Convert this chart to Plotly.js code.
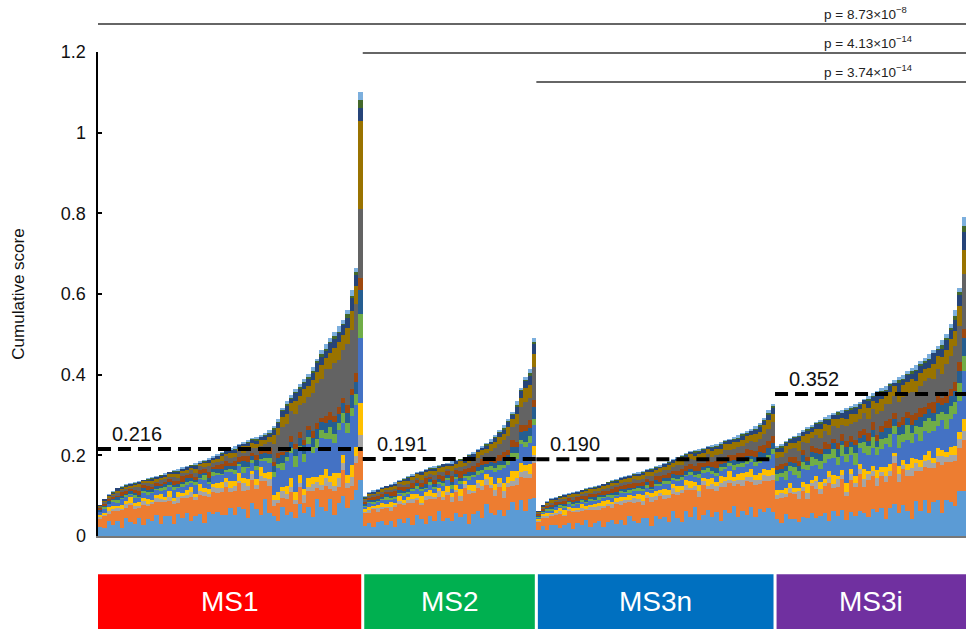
<!DOCTYPE html>
<html><head><meta charset="utf-8">
<script src="https://cdn.plot.ly/plotly-3.0.1.min.js"></script>
<style>html,body{margin:0;padding:0;background:#fff}#chart{width:966px;height:630px}</style>
</head><body><div id="chart"></div>
<script>
// ---------- DATA ----------
const groupNames = ['MS1', 'MS2', 'MS3n', 'MS3i'];
const groupColors = ['#FF0000', '#00B050', '#0070C0', '#7030A0'];
const groupMeans = [0.216, 0.191, 0.190, 0.352];
const groupMeanLabels = ['0.216', '0.191', '0.190', '0.352'];

// cumulative score of each sample (sorted within group)
const ms1Totals = [0.078,0.092,0.104,0.112,0.119,0.124,0.128,0.131,0.134,0.137,
  0.140,0.143,0.146,0.149,0.152,0.155,0.159,0.163,0.166,0.170,
  0.173,0.177,0.181,0.185,0.189,0.193,0.198,0.203,0.208,0.213,
  0.218,0.223,0.228,0.233,0.238,0.242,0.246,0.250,0.255,0.262,
  0.272,0.290,0.318,0.334,0.350,0.365,0.378,0.390,0.402,0.420,
  0.440,0.460,0.475,0.490,0.505,0.520,0.535,0.560,0.610,0.665,
  1.100];
const ms2Totals = [0.098,0.108,0.113,0.117,0.121,0.125,0.129,0.133,0.138,0.143,
  0.148,0.153,0.158,0.162,0.166,0.170,0.173,0.176,0.179,0.182,
  0.185,0.188,0.192,0.197,0.203,0.209,0.216,0.223,0.231,0.240,
  0.250,0.262,0.275,0.290,0.308,0.335,0.368,0.395,0.415,0.490];
const ms3nTotals = [0.062,0.078,0.086,0.093,0.097,0.100,0.103,0.106,0.109,0.112,
  0.115,0.118,0.121,0.124,0.127,0.130,0.134,0.138,0.142,0.146,
  0.149,0.152,0.155,0.158,0.161,0.165,0.169,0.173,0.177,0.181,
  0.186,0.191,0.196,0.201,0.206,0.210,0.213,0.216,0.219,0.222,
  0.225,0.229,0.233,0.237,0.241,0.245,0.250,0.255,0.260,0.266,
  0.272,0.280,0.292,0.312,0.328];
const ms3iTotals = [0.222,0.228,0.236,0.243,0.249,0.255,0.262,0.270,0.276,0.282,
  0.288,0.294,0.299,0.304,0.309,0.313,0.318,0.323,0.328,0.333,
  0.340,0.347,0.354,0.360,0.366,0.372,0.379,0.386,0.393,0.400,
  0.408,0.416,0.424,0.433,0.442,0.451,0.461,0.472,0.485,0.500,
  0.525,0.560,0.615,0.790];

// component colours (stack order, bottom to top)
const componentColors = ['#5B9BD5','#ED7D31','#A5A5A5','#FFC000','#4472C4','#70AD47',
  '#255E91','#9E480E','#636363','#997300','#264478','#43682B','#7CAFDD'];

// relative share of each component in every sample (MS1 | MS2 | MS3n | MS3i)
const wLightBlue = [30,22,38,26,34,19,41,28,24,36,21,33,27,44,23,31,38,20,35,26,40,24,29,37,18,33,27,42,22,30,36,25,43,28,21,39,32,24,45,27,20,14,26,17,23,12,28,16,21,13,25,18,15,22,12,19,24,14,17,20,14,
  28,36,22,33,40,25,31,19,37,27,34,23,42,29,20,35,26,39,24,32,21,38,28,33,18,30,36,24,41,27,22,30,19,26,32,21,28,17,24,20,
  26,34,20,31,38,24,29,36,18,32,27,40,22,30,35,19,28,37,25,33,21,39,27,24,34,30,18,36,26,31,23,38,28,20,33,26,41,22,29,35,24,31,19,34,27,36,22,30,25,32,20,28,24,26,21,
  22,16,27,19,25,14,23,18,29,17,21,26,15,24,19,28,13,22,17,25,20,15,26,18,23,14,21,27,16,24,19,13,22,17,25,15,20,23,14,21,18,16,20,15];
const wOrange = [28,36,20,32,25,41,22,34,30,18,38,24,33,27,44,21,30,35,19,29,26,40,23,31,37,20,28,34,25,42,22,30,36,19,33,27,24,39,21,31,10,16,8,13,19,9,14,7,12,17,8,11,15,6,13,9,16,10,7,12,7,
  36,28,42,25,33,38,22,40,30,35,26,44,31,24,39,29,37,21,34,41,27,33,23,38,45,28,32,36,25,30,20,26,18,23,15,21,17,22,14,18,
  38,30,44,27,35,41,25,33,46,29,36,24,40,32,28,43,34,26,39,31,45,27,35,38,24,33,42,29,36,30,40,26,34,43,28,37,25,32,41,29,35,27,44,31,36,24,38,30,42,28,33,26,30,24,28,
  26,32,21,29,35,24,30,19,33,27,23,31,36,22,28,34,20,30,25,37,22,29,33,19,27,31,24,35,21,28,26,32,18,27,23,30,20,25,29,22,21,24,19,17];
const wGray = [6,4,8,5,7,3,9,5,6,4,7,5,3,8,6,4,7,5,9,3,6,8,4,7,5,3,6,9,4,7,5,6,3,8,4,7,5,6,4,8,5,3,6,4,5,3,4,6,3,5,4,3,5,4,3,5,4,3,4,3,4,
  5,7,4,8,6,3,9,5,7,4,6,8,5,3,7,6,4,9,5,6,7,4,8,5,6,3,7,5,8,4,6,5,7,4,5,6,4,5,3,4,
  7,5,9,4,6,8,5,7,3,6,8,4,7,5,9,6,4,8,5,7,6,3,8,5,7,4,9,6,5,7,4,8,6,5,7,3,6,8,5,4,7,6,5,8,4,6,5,7,4,6,5,4,6,5,4,
  5,7,4,6,3,8,5,6,4,7,5,3,6,4,7,5,4,6,3,5,7,4,5,6,3,5,4,6,5,3,4,6,5,3,4,5,3,4,5,3,4,3,4,3];
const wYellow = [8,5,10,6,4,9,7,11,5,8,6,10,4,7,9,5,12,6,8,4,9,7,5,11,6,8,4,10,7,5,9,6,12,5,8,4,7,10,6,9,5,7,4,6,8,5,7,4,6,5,3,6,5,4,7,3,5,4,6,4,8,
  7,10,5,8,12,6,9,4,11,7,5,9,8,12,6,10,7,5,9,11,6,8,10,5,7,9,4,8,6,10,7,5,8,6,9,5,7,4,6,5,
  8,6,10,5,9,7,12,6,8,4,10,7,5,9,6,11,8,5,7,10,6,9,4,8,11,6,7,9,5,10,8,6,9,5,7,10,6,8,4,9,7,5,8,6,10,5,7,9,6,8,5,7,6,5,6,
  6,4,8,5,7,3,6,9,4,5,7,4,6,8,3,5,7,4,6,5,8,3,5,6,4,7,5,3,6,4,5,7,3,5,4,6,3,5,4,3,4,5,3,4];
const wBlue = [8,12,6,10,7,13,9,5,11,8,10,6,12,9,7,11,8,13,6,10,9,7,12,8,11,6,10,14,7,9,12,8,10,6,13,9,11,7,14,10,18,22,15,20,24,17,21,19,25,16,20,23,18,22,17,24,19,21,23,18,16,
  6,9,5,8,7,10,6,8,5,9,7,6,10,8,5,9,7,6,8,10,6,9,7,5,8,10,7,9,6,8,12,10,14,11,13,10,15,12,14,11,
  7,5,8,6,9,5,7,8,6,10,5,7,9,6,8,5,7,10,6,8,7,5,9,6,8,7,5,9,6,8,10,6,7,9,5,8,6,10,7,9,6,8,7,10,6,9,8,7,10,8,9,11,8,10,12,
  12,16,10,14,18,11,15,13,17,10,14,19,12,16,11,15,18,13,10,16,14,12,17,11,15,19,13,16,12,14,18,11,15,13,17,12,16,14,18,13,15,17,14,16];
const wGreen = [3,5,2,4,6,3,4,2,5,3,4,6,3,2,5,4,3,6,2,4,5,3,4,2,6,3,5,4,2,3,4,5,3,6,2,4,5,3,4,6,5,4,6,3,5,7,4,6,5,4,6,5,4,7,5,4,6,5,4,5,6,
  4,3,5,2,4,6,3,4,2,5,3,4,6,3,2,5,4,3,5,4,6,3,4,2,5,3,6,4,3,5,4,5,3,6,4,5,3,4,5,3,
  4,3,5,4,2,6,3,4,5,3,4,2,5,3,6,4,3,5,2,4,3,5,4,6,3,4,2,5,3,4,6,3,4,5,2,4,3,5,4,6,3,4,5,3,4,6,3,5,4,3,4,5,3,4,5,
  8,5,10,6,12,7,9,5,11,6,8,10,5,9,7,12,6,8,10,5,9,7,11,6,8,5,10,7,9,6,11,8,5,9,7,10,6,8,5,9,7,6,8,5];
const wDarkBlue = [5,4,6,3,7,5,4,6,5,3,6,4,5,7,3,5,6,4,5,3,7,5,4,6,3,5,4,7,5,6,4,5,3,6,5,4,7,5,6,4,6,5,7,4,6,5,7,6,5,6,7,5,6,4,7,5,6,5,6,5,6,
  4,6,3,5,4,7,5,3,6,4,5,3,6,4,7,5,4,6,3,5,4,6,5,3,7,4,5,6,4,5,6,5,7,4,6,5,6,7,5,6,
  5,3,4,6,5,3,7,4,5,6,3,5,4,6,5,4,3,6,5,4,6,5,3,4,6,5,4,7,3,5,4,6,5,3,5,4,6,5,4,3,5,6,4,5,3,6,4,5,6,4,5,6,5,6,5,
  6,5,7,4,6,5,8,4,6,5,7,5,4,6,8,5,6,4,7,5,6,4,7,5,6,8,4,6,5,7,5,6,4,7,5,6,5,7,4,6,5,6,5,6];
const wBrown = [6,4,7,5,3,8,5,4,6,7,5,8,4,6,5,3,7,6,4,8,5,6,4,7,5,8,3,6,5,7,4,6,8,5,7,4,6,5,3,7,4,5,3,4,6,3,5,4,3,5,4,3,4,5,3,4,3,4,3,4,3,
  7,5,9,6,8,5,7,10,6,8,5,9,7,6,10,5,8,6,9,7,8,6,10,7,5,9,6,8,7,6,5,7,6,5,6,4,5,4,5,4,
  8,6,9,7,10,5,8,7,6,9,7,10,6,8,5,9,7,8,10,6,8,7,9,5,8,6,10,7,9,6,8,5,7,9,6,8,7,10,6,8,7,9,6,8,7,5,9,7,8,6,7,6,8,7,6,
  5,7,4,6,8,5,6,4,7,5,6,8,5,4,6,7,5,6,4,7,5,6,8,4,5,6,7,5,4,6,5,7,4,6,5,4,6,5,4,5,4,5,4,3];
const wDarkGray = [4,6,3,5,7,4,6,3,5,8,4,6,5,3,7,5,4,8,6,5,4,7,5,6,3,8,5,6,4,7,6,5,8,4,7,6,9,5,8,7,18,16,22,19,24,20,23,26,21,25,27,24,28,26,30,27,29,31,28,30,17,
  4,6,3,5,7,4,5,3,6,4,5,7,4,6,3,5,8,4,6,5,7,4,6,5,8,6,7,5,8,7,10,12,11,14,13,15,14,16,15,17,
  4,5,3,6,4,7,5,3,6,4,5,7,4,6,5,3,6,8,4,5,6,4,7,5,6,4,8,5,6,7,5,6,8,5,7,6,9,5,7,8,6,8,7,9,6,8,7,9,8,10,9,8,10,11,12,
  10,8,12,9,13,11,9,14,10,12,11,13,9,12,14,10,13,11,15,12,14,11,13,16,12,14,11,15,13,16,14,17,13,15,18,16,14,17,15,18,17,19,16,18];
const wOlive = [3,5,4,2,6,3,5,4,3,6,4,3,5,6,4,3,5,4,6,3,5,4,6,3,5,4,3,6,5,4,6,5,4,7,5,6,4,7,5,6,8,7,9,8,7,9,8,10,8,9,8,9,7,9,8,10,9,8,9,8,22,
  5,7,4,6,8,5,7,6,4,8,6,5,7,8,6,4,7,6,8,5,7,6,8,5,7,6,8,7,5,8,7,8,6,9,7,8,7,9,8,7,
  6,5,7,8,6,5,7,6,8,5,7,6,8,5,7,8,6,7,5,8,6,7,5,8,6,7,8,6,7,5,8,6,7,8,6,7,5,8,7,6,8,7,6,8,7,8,6,7,8,7,8,7,9,8,7,
  8,7,9,6,8,10,7,9,8,6,9,8,10,7,9,8,6,9,7,10,8,9,7,8,10,7,9,8,7,9,8,10,7,9,8,7,9,8,10,8,9,8,9,8];
const wNavy = [3,4,2,3,5,3,2,4,3,4,2,3,4,3,5,2,3,4,3,2,4,3,5,3,2,4,3,4,2,3,4,3,5,2,4,3,4,3,5,4,5,4,5,6,4,5,6,4,5,5,6,5,4,6,5,5,6,5,6,5,3,
  3,2,4,3,2,4,3,5,2,3,4,3,2,4,3,5,3,2,4,3,3,4,2,5,3,4,3,2,4,3,4,5,4,5,4,6,5,5,6,5,
  3,4,2,3,4,3,5,2,3,4,3,2,4,3,5,3,4,2,3,4,3,5,3,2,4,3,4,3,2,5,3,4,3,4,2,3,5,3,4,3,4,3,5,3,4,3,4,5,3,4,4,5,4,5,5,
  4,5,3,4,6,4,5,3,5,4,6,4,5,3,4,5,6,4,5,4,3,5,4,6,5,4,5,3,6,4,5,4,6,5,4,5,6,4,5,6,5,6,5,6];
const wDarkGreen = [1,0,1,1,0,2,1,0,1,1,0,1,2,0,1,1,0,1,2,1,0,1,1,0,2,1,0,1,1,0,1,2,1,0,1,1,2,0,1,1,2,1,1,2,1,1,2,1,2,1,1,2,1,1,2,1,1,2,1,1,2,
  1,0,1,2,0,1,1,0,1,1,2,0,1,1,0,1,2,1,0,1,1,0,1,2,1,0,1,1,2,0,1,1,2,1,1,2,1,1,2,1,
  0,1,1,0,2,1,0,1,1,0,1,2,0,1,1,0,1,1,2,0,1,0,1,1,2,0,1,1,0,1,2,1,0,1,1,0,2,1,1,0,1,1,2,1,0,1,1,2,1,1,1,2,1,1,2,
  1,2,1,1,2,1,0,2,1,1,2,1,1,0,2,1,1,2,1,1,0,2,1,1,2,1,1,0,2,1,1,2,1,1,2,1,0,1,2,1,1,2,1,2];
const wSkyBlue = [2,1,2,3,1,2,2,1,3,2,1,2,2,3,1,2,1,2,3,2,2,1,3,2,1,2,2,3,1,2,2,3,1,2,2,1,3,2,2,3,2,3,2,2,3,2,3,2,2,3,2,2,3,2,2,3,2,2,3,2,2,
  2,1,3,2,2,1,2,3,1,2,2,3,1,2,2,1,3,2,1,2,3,2,1,2,2,3,1,2,2,3,2,2,3,2,2,3,2,2,3,2,
  1,2,2,1,3,2,1,2,2,3,1,2,1,3,2,2,1,2,3,1,2,2,1,3,2,1,2,2,3,1,2,1,3,2,2,1,2,3,2,1,2,3,2,1,2,2,3,1,2,2,3,2,2,3,2,
  2,3,2,1,2,3,2,2,3,1,2,2,3,2,1,3,2,2,3,2,1,2,3,2,2,3,1,2,2,3,2,2,3,2,2,3,2,2,3,2,2,3,2,3];

// pairwise comparisons shown at the top (group vs last group)
const pFromGroups = ['MS1', 'MS2', 'MS3n'];
const pToGroup = 'MS3i';
const pBase = ['8.73', '4.13', '3.74'];
const pExp = ['−8', '−14', '−14'];

// ---------- BUILD ----------
const groupTotals = [ms1Totals, ms2Totals, ms3nTotals, ms3iTotals];
const weights = [wLightBlue, wOrange, wGray, wYellow, wBlue, wGreen, wDarkBlue, wBrown,
  wDarkGray, wOlive, wNavy, wDarkGreen, wSkyBlue];
const totals = [].concat(...groupTotals);
const N = totals.length;
weights.forEach((w, k) => { if (w.length !== N) throw new Error('weights ' + k + ' length ' + w.length + ' != ' + N); });

const xs = totals.map((_, i) => i);
const wSum = totals.map((_, i) => weights.reduce((s, w) => s + w[i], 0));
const traces = weights.map((w, k) => ({
  type: 'bar', x: xs, y: totals.map((t, i) => t * w[i] / wSum[i]),
  marker: { color: componentColors[k], line: { width: 0 } },
  hoverinfo: 'skip', showlegend: false
}));

const starts = []; let acc = 0;
groupTotals.forEach(g => { starts.push(acc - 0.5); acc += g.length; });
const ends = groupTotals.map((g, i) => starts[i] + g.length);
const xMax = N - 0.5;

const shapes = []; const annotations = [];
const F = 'Liberation Sans, Arial, sans-serif';
groupNames.forEach((name, i) => {
  shapes.push({ type: 'line', xref: 'x', yref: 'y', x0: starts[i], x1: ends[i],
    y0: groupMeans[i], y1: groupMeans[i], line: { color: '#000', width: 4, dash: '13px,7px' } });
  annotations.push({ xref: 'x', yref: 'y', x: starts[i], y: groupMeans[i], xanchor: 'left', yanchor: 'bottom',
    xshift: 12, yshift: 2, showarrow: false, text: groupMeanLabels[i], font: { family: F, size: 20, color: '#111' } });
  shapes.push({ type: 'rect', xref: 'x', yref: 'paper', x0: starts[i] + (i > 0 ? 0.35 : 0),
    x1: ends[i] - (i < groupNames.length - 1 ? 0.35 : 0), y0: -0.192, y1: -0.079,
    fillcolor: groupColors[i], line: { width: 0 } });
  annotations.push({ xref: 'x', yref: 'paper', x: (starts[i] + ends[i]) / 2, y: -0.1355,
    xanchor: 'center', yanchor: 'middle', showarrow: false,
    text: name, font: { family: F, size: 28, color: '#fff' } });
});
const pLineY = [1.058, 0.998, 0.938];
pFromGroups.forEach((g, j) => {
  const gi = groupNames.indexOf(g);
  const ti = groupNames.indexOf(pToGroup);
  shapes.push({ type: 'line', xref: 'x', yref: 'paper', x0: starts[gi], x1: ends[ti],
    y0: pLineY[j], y1: pLineY[j], line: { color: '#333', width: 1.5 } });
  annotations.push({ xref: 'paper', yref: 'paper', x: 0.834, y: pLineY[j], xanchor: 'left', yanchor: 'bottom',
    yshift: 0, showarrow: false, text: 'p = ' + pBase[j] + '×10<sup>' + pExp[j] + '</sup>',
    font: { family: F, size: 13.5, color: '#222' } });
});

const layout = {
  width: 966, height: 630,
  margin: { l: 98, r: 0, t: 52, b: 94, pad: 0 },
  paper_bgcolor: '#fff', plot_bgcolor: '#fff',
  barmode: 'stack', bargap: 0,
  showlegend: false,
  font: { family: F, color: '#111' },
  xaxis: { range: [-0.5, xMax], showgrid: false, zeroline: false, showticklabels: false,
    ticks: '', showline: true, linecolor: '#777', linewidth: 1.5, fixedrange: true },
  yaxis: { range: [0, 1.2], tickvals: [0, 0.2, 0.4, 0.6, 0.8, 1, 1.2],
    ticktext: ['0', '0.2', '0.4', '0.6', '0.8', '1', '1.2'],
    showgrid: false, zeroline: false, showline: true, linecolor: '#000', linewidth: 2.5,
    ticks: 'inside', ticklen: 4, tickwidth: 2, tickcolor: '#000',
    tickfont: { family: F, size: 18, color: '#111' }, ticklabelstandoff: 6,
    title: { text: 'Cumulative score', font: { family: F, size: 17, color: '#111' }, standoff: 32 },
    fixedrange: true },
  shapes: shapes, annotations: annotations
};
Plotly.newPlot('chart', traces, layout, { staticPlot: true, displayModeBar: false });
</script></body></html>
